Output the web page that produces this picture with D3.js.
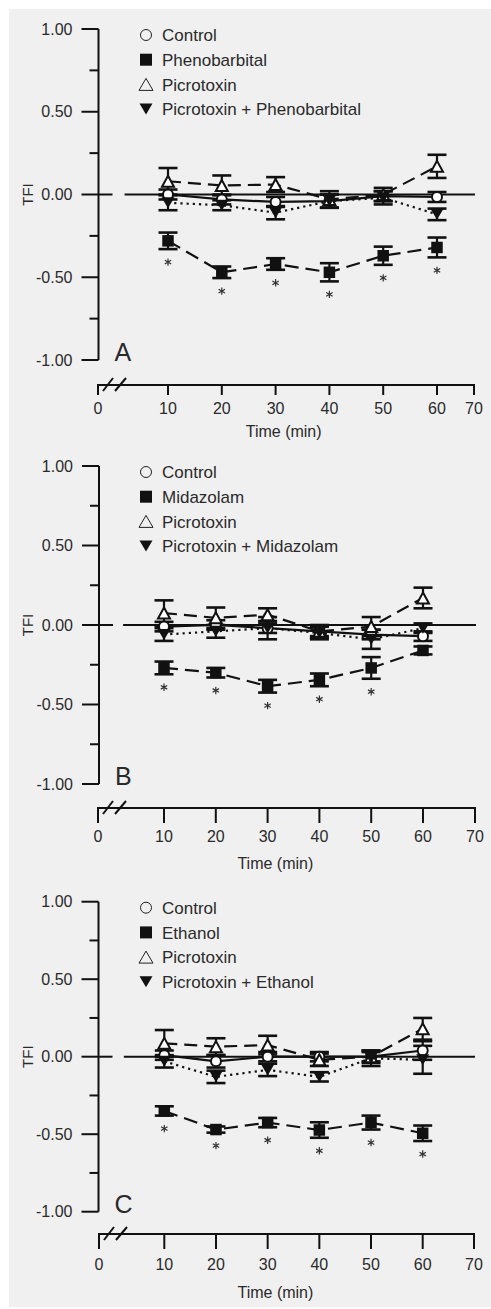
<!DOCTYPE html>
<html>
<head>
<meta charset="utf-8">
<script src="https://cdn.jsdelivr.net/npm/d3@7/dist/d3.min.js"></script>
<style>
  html, body { margin: 0; padding: 0; background: #ffffff; }
  svg { display: block; }
  text { font-family: "Liberation Sans", Arial, Helvetica, sans-serif; fill: #2a2a2a; }
</style>
</head>
<body>
<script>
// ---------------- DATA ----------------
const times = [10, 20, 30, 40, 50, 60];
const xTickValues = [0, 10, 20, 30, 40, 50, 60, 70];
const yMajorTicks = [1, 0.5, 0, -0.5, -1];
const yTickLabels = ["1.00", "0.50", "0.00", "-0.50", "-1.00"];
const yMinorTicks = [0.75, 0.25, -0.25, -0.75];
const panelLetters = ["A", "B", "C"];
const drugNames = ["Phenobarbital", "Midazolam", "Ethanol"];
const yAxisTitle = "TFI";
const xAxisTitle = "Time (min)";

// Panel A: Phenobarbital
const controlA = [0.00, -0.03, -0.045, -0.04, -0.01, -0.015];
const controlSeA = [0.03, 0.03, 0.03, 0.04, 0.03, 0.03];
const drugA = [-0.28, -0.47, -0.42, -0.47, -0.37, -0.32];
const drugSeA = [0.05, 0.035, 0.035, 0.055, 0.055, 0.06];
const picroA = [0.08, 0.055, 0.06, -0.03, 0.00, 0.17];
const picroSeA = [0.08, 0.06, 0.045, 0.05, 0.04, 0.07];
const comboA = [-0.05, -0.065, -0.11, -0.04, -0.02, -0.12];
const comboSeA = [0.045, 0.03, 0.04, 0.04, 0.04, 0.035];
const starsA = [true, true, true, true, true, true];

// Panel B: Midazolam
const controlB = [-0.01, 0.00, -0.02, -0.04, -0.06, -0.07];
const controlSeB = [0.03, 0.03, 0.03, 0.03, 0.03, 0.03];
const drugB = [-0.27, -0.30, -0.385, -0.345, -0.27, -0.16];
const drugSeB = [0.04, 0.03, 0.04, 0.04, 0.068, 0.025];
const picroB = [0.075, 0.045, 0.065, -0.04, -0.01, 0.17];
const picroSeB = [0.08, 0.065, 0.04, 0.04, 0.06, 0.065];
const comboB = [-0.06, -0.04, -0.02, -0.05, -0.09, -0.02];
const comboSeB = [0.04, 0.04, 0.07, 0.04, 0.06, 0.03];
const starsB = [true, true, true, true, true, false];

// Panel C: Ethanol
const controlC = [0.01, -0.03, 0.00, 0.00, 0.00, 0.04];
const controlSeC = [0.03, 0.04, 0.03, 0.03, 0.03, 0.06];
const drugC = [-0.35, -0.47, -0.425, -0.473, -0.425, -0.494];
const drugSeC = [0.03, 0.02, 0.03, 0.05, 0.045, 0.05];
const picroC = [0.086, 0.065, 0.075, -0.02, 0.00, 0.18];
const picroSeC = [0.086, 0.054, 0.06, 0.04, 0.04, 0.07];
const comboC = [-0.03, -0.13, -0.085, -0.13, -0.01, -0.02];
const comboSeC = [0.04, 0.04, 0.04, 0.03, 0.05, 0.09];
const starsC = [true, true, true, true, true, true];

// --------------- LAYOUT ---------------
const W = 491, H = 1309;
const panels = [
  { top: 29,  bottom: 360,  axisX: 98.5, xAxisY: 385,  xr: [98, 168, 437, 474],   tickLen: 10, tickLabelY: 408,  titleY: 431,
    control: controlA, controlSe: controlSeA, drug: drugA, drugSe: drugSeA, picro: picroA, picroSe: picroSeA, combo: comboA, comboSe: comboSeA, stars: starsA },
  { top: 466, bottom: 784,  axisX: 99,   xAxisY: 808,  xr: [98, 164, 423, 475],   tickLen: 15, tickLabelY: 836,  titleY: 863,
    control: controlB, controlSe: controlSeB, drug: drugB, drugSe: drugSeB, picro: picroB, picroSe: picroSeB, combo: comboB, comboSe: comboSeB, stars: starsB },
  { top: 901.7, bottom: 1211.7, axisX: 98.5, xAxisY: 1234, xr: [99, 164.3, 422.7, 474], tickLen: 15, tickLabelY: 1264, titleY: 1292,
    control: controlC, controlSe: controlSeC, drug: drugC, drugSe: drugSeC, picro: picroC, picroSe: picroSeC, combo: comboC, comboSe: comboSeC, stars: starsC }
];

const svg = d3.select("body").append("svg").attr("width", W).attr("height", H);
svg.append("rect").attr("x", 0).attr("y", 0).attr("width", W).attr("height", H).attr("fill", "#ffffff");
svg.append("rect").attr("x", 9).attr("y", 9).attr("width", W - 9).attr("height", 1298).attr("fill", "#f0f0f0");

function triUp(w, h) { return `M0,${-h / 2}L${w / 2},${h / 2}L${-w / 2},${h / 2}Z`; }
function triDown(w, h) { return `M0,${h / 2}L${w / 2},${-h / 2}L${-w / 2},${-h / 2}Z`; }
function square(s) { return `M${-s / 2},${-s / 2}h${s}v${s}h${-s}Z`; }

panels.forEach((p, pi) => {
  const g = svg.append("g");
  const y = d3.scaleLinear().domain([-1, 1]).range([p.bottom, p.top]);
  const x = d3.scaleLinear().domain([0, 10, 60, 70]).range(p.xr);

  // ----- Y axis -----
  g.append("line").attr("x1", p.axisX).attr("x2", p.axisX).attr("y1", y(1)).attr("y2", y(-1))
    .attr("stroke", "#111").attr("stroke-width", 2);
  g.selectAll(".ymaj").data(yMajorTicks).enter().append("line")
    .attr("x1", p.axisX - 17).attr("x2", d => d === 0 ? p.axisX + 14 : p.axisX)
    .attr("y1", d => y(d)).attr("y2", d => y(d))
    .attr("stroke", "#111").attr("stroke-width", 2);
  g.selectAll(".ymin").data(yMinorTicks).enter().append("line")
    .attr("x1", p.axisX - 9).attr("x2", p.axisX)
    .attr("y1", d => y(d)).attr("y2", d => y(d))
    .attr("stroke", "#111").attr("stroke-width", 2);
  g.selectAll(".ylab").data(yMajorTicks).enter().append("text")
    .attr("x", p.axisX - 26).attr("y", d => y(d))
    .attr("dy", "0.35em").attr("text-anchor", "end")
    .attr("font-size", 16).text((d, i) => yTickLabels[i]);
  g.append("text")
    .attr("transform", `translate(28,${y(0)}) rotate(-90)`)
    .attr("text-anchor", "middle").attr("dy", "0.35em")
    .attr("font-size", 15).text(yAxisTitle);

  // zero reference line
  g.append("line").attr("x1", x(3.8)).attr("x2", x(70) + 1).attr("y1", y(0)).attr("y2", y(0))
    .attr("stroke", "#111").attr("stroke-width", 2);

  // ----- X axis -----
  const xa = p.xAxisY;
  g.append("line").attr("x1", x(0)).attr("x2", x(70)).attr("y1", xa).attr("y2", xa)
    .attr("stroke", "#111").attr("stroke-width", 2);
  g.selectAll(".xt").data(xTickValues).enter().append("line")
    .attr("x1", d => x(d)).attr("x2", d => x(d))
    .attr("y1", xa - 1).attr("y2", xa + p.tickLen)
    .attr("stroke", "#111").attr("stroke-width", 2);
  // break marks
  [0, 1].forEach(k => {
    g.append("line")
      .attr("x1", x(0) + 5 + k * 12).attr("y1", xa + 6)
      .attr("x2", x(0) + 15 + k * 13).attr("y2", xa - 7)
      .attr("stroke", "#111").attr("stroke-width", 2);
  });
  g.selectAll(".xl").data(xTickValues).enter().append("text")
    .attr("x", d => x(d)).attr("y", p.tickLabelY).attr("dy", "0.35em")
    .attr("text-anchor", "middle").attr("font-size", 16).text(d => d);
  g.append("text").attr("x", x(31.5)).attr("y", p.titleY).attr("dy", "0.35em")
    .attr("text-anchor", "middle").attr("font-size", 16).text(xAxisTitle);

  // panel letter
  g.append("text").attr("x", p.axisX + 16).attr("y", y(-1) + 1)
    .attr("font-size", 25).attr("font-weight", 300).text(panelLetters[pi]);

  // ----- series -----
  const series = [
    { key: "control", vals: p.control, se: p.controlSe, dash: null, shape: "circle" },
    { key: "drug", vals: p.drug, se: p.drugSe, dash: "14,7", shape: "square" },
    { key: "picro", vals: p.picro, se: p.picroSe, dash: "13,7", shape: "triUp" },
    { key: "combo", vals: p.combo, se: p.comboSe, dash: "2.2,4", shape: "triDown" }
  ];
  const line = d3.line().x((d, i) => x(times[i])).y(d => y(d));

  series.forEach(s => {
    g.append("path").datum(s.vals).attr("d", line)
      .attr("fill", "none").attr("stroke", "#111").attr("stroke-width", 2.2)
      .attr("stroke-dasharray", s.dash);
  });
  series.forEach(s => {
    const eg = g.append("g");
    s.vals.forEach((v, i) => {
      const cx = x(times[i]);
      const top = y(v + s.se[i]), bot = y(v - s.se[i]);
      eg.append("line").attr("x1", cx).attr("x2", cx).attr("y1", top).attr("y2", bot)
        .attr("stroke", "#111").attr("stroke-width", 2.2);
      [top, bot].forEach(yy => eg.append("line").attr("x1", cx - 9.5).attr("x2", cx + 9.5)
        .attr("y1", yy).attr("y2", yy).attr("stroke", "#111").attr("stroke-width", 2.6));
    });
  });
  const order = [series[0], series[2], series[3], series[1]];
  order.forEach(s => {
    const mg = g.append("g");
    s.vals.forEach((v, i) => {
      const cx = x(times[i]), cy = y(v);
      if (s.shape === "circle") {
        mg.append("circle").attr("cx", cx).attr("cy", cy).attr("r", 5)
          .attr("fill", "#fff").attr("stroke", "#111").attr("stroke-width", 2);
      } else if (s.shape === "square") {
        mg.append("path").attr("d", square(11.5)).attr("transform", `translate(${cx},${cy})`).attr("fill", "#111");
      } else if (s.shape === "triUp") {
        mg.append("path").attr("d", triUp(12, 11)).attr("transform", `translate(${cx},${cy})`)
          .attr("fill", "#fff").attr("stroke", "#111").attr("stroke-width", 2);
      } else {
        mg.append("path").attr("d", triDown(13, 11)).attr("transform", `translate(${cx},${cy})`).attr("fill", "#111");
      }
    });
  });

  // significance asterisks
  const ast = d3.symbol().type(d3.symbolAsterisk).size(38);
  p.drug.forEach((v, i) => {
    if (!p.stars[i]) return;
    g.append("path").attr("d", ast())
      .attr("transform", `translate(${x(times[i])},${y(v - p.drugSe[i]) + 13})`)
      .attr("fill", "none").attr("stroke", "#333").attr("stroke-width", 1.2);
  });

  // ----- legend -----
  const legendLabels = ["Control", drugNames[pi], "Picrotoxin", "Picrotoxin + " + drugNames[pi]];
  const lx = 146, tx = 162;
  legendLabels.forEach((lab, i) => {
    const ly = y(1) + 6 + i * 24.7;
    if (i === 0) {
      g.append("circle").attr("cx", lx).attr("cy", ly).attr("r", 5.5)
        .attr("fill", "none").attr("stroke", "#222").attr("stroke-width", 1);
    } else if (i === 1) {
      g.append("path").attr("d", square(12)).attr("transform", `translate(${lx},${ly})`).attr("fill", "#111");
    } else if (i === 2) {
      g.append("path").attr("d", triUp(14, 12)).attr("transform", `translate(${lx},${ly})`)
        .attr("fill", "none").attr("stroke", "#222").attr("stroke-width", 1);
    } else {
      g.append("path").attr("d", triDown(13, 11)).attr("transform", `translate(${lx},${ly})`).attr("fill", "#111");
    }
    g.append("text").attr("x", tx).attr("y", ly).attr("dy", "0.36em")
      .attr("font-size", 17).text(lab);
  });
});
</script>
</body>
</html>
